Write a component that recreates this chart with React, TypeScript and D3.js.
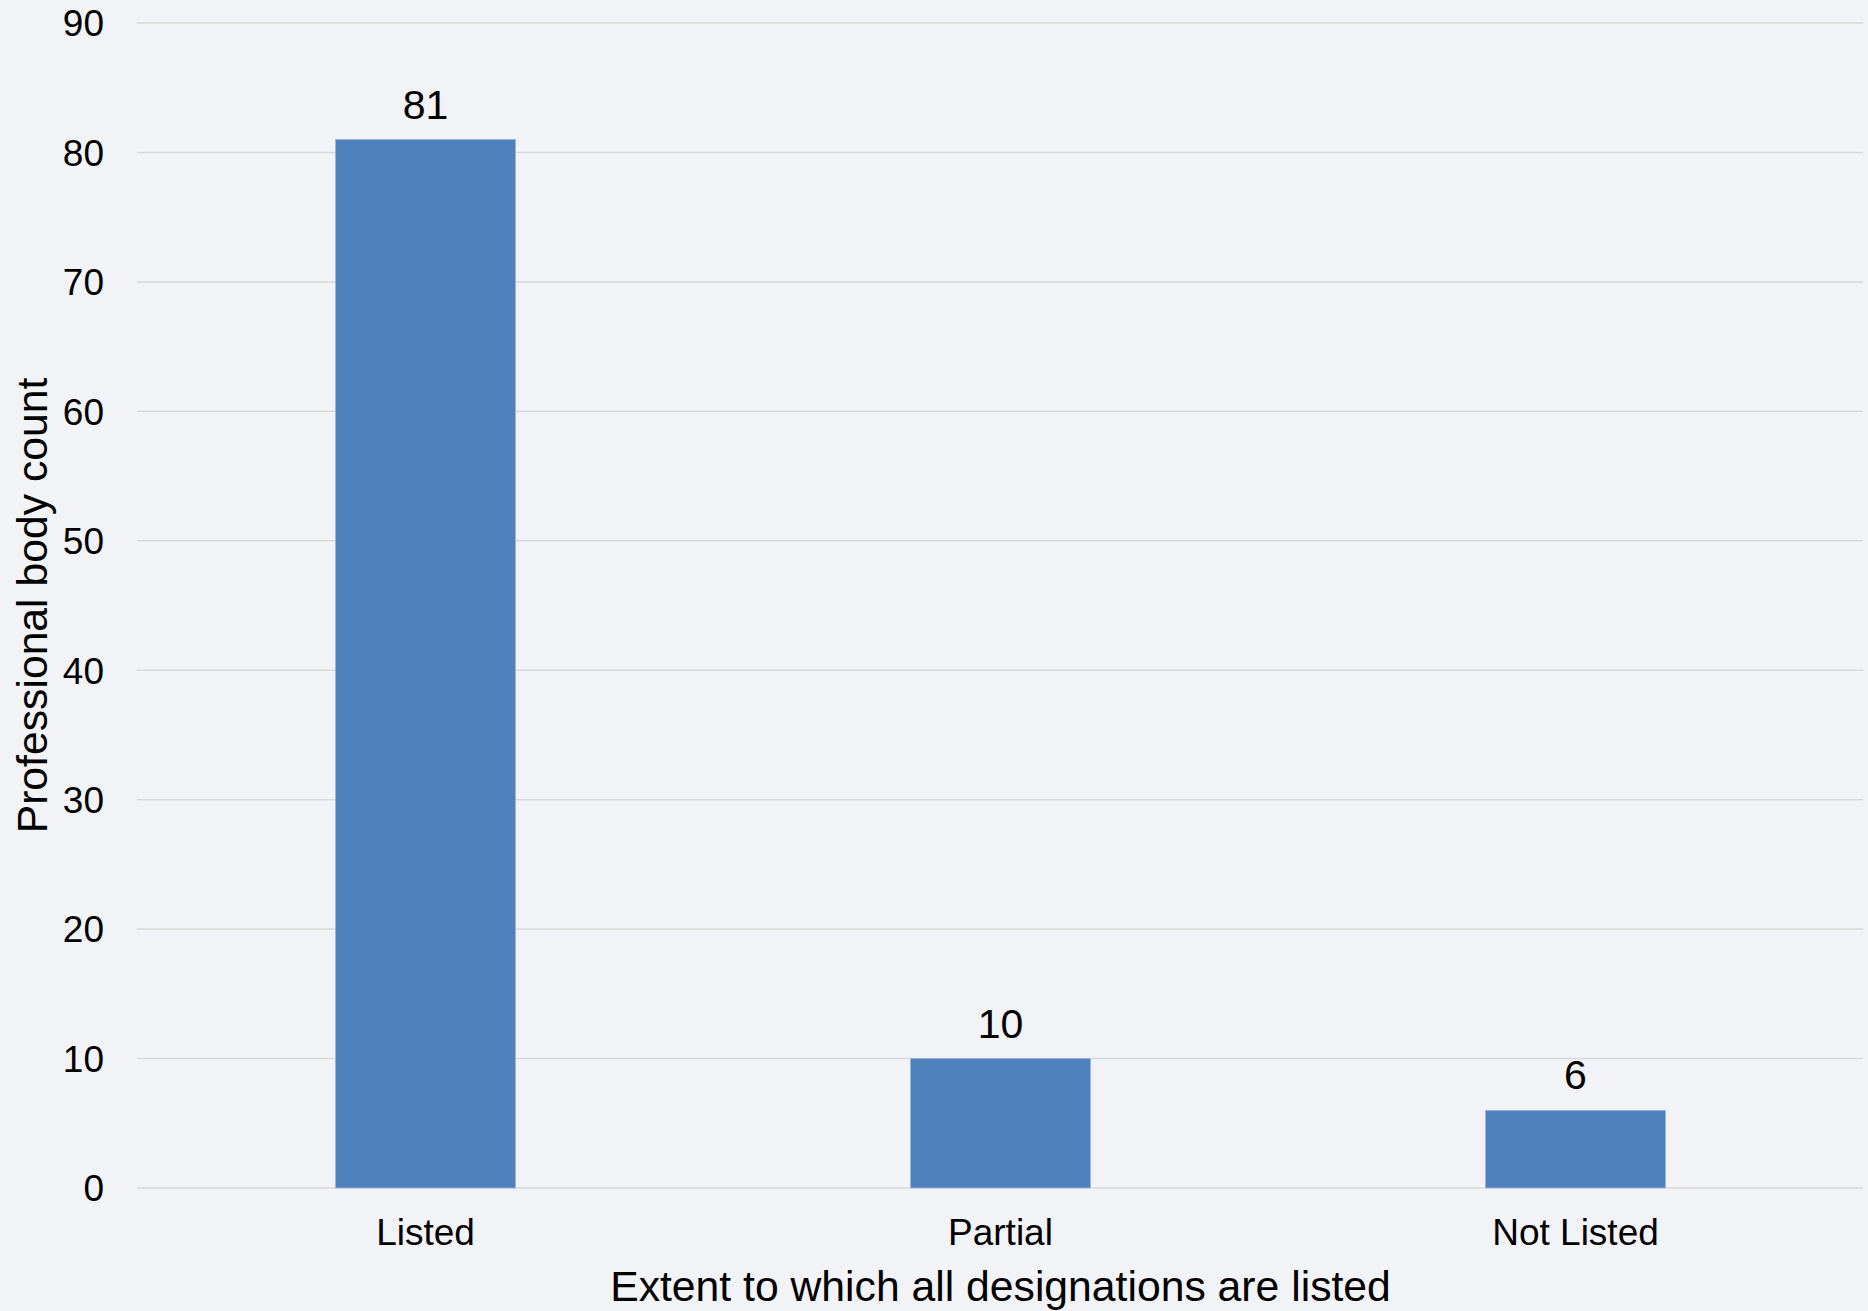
import React from "react";
import * as d3 from "d3";

const categories = ["Listed", "Partial", "Not Listed"];
const counts = [81, 10, 6];
const yTicks = [0, 10, 20, 30, 40, 50, 60, 70, 80, 90];
const xTitle = "Extent to which all designations are listed";
const yTitle = "Professional body count";

const W = 1868;
const H = 1311;
const margin = { left: 138, right: 5, top: 23, bottom: 123 };
const FONT = "'Liberation Sans', Arial, sans-serif";

export default function App() {
  const x = d3
    .scaleBand<string>()
    .domain(categories)
    .range([margin.left, W - margin.right])
    .paddingInner(0.687)
    .paddingOuter(0.3435);
  const y = d3
    .scaleLinear()
    .domain([0, 90])
    .range([H - margin.bottom, margin.top]);

  const plotMidX = (margin.left + W - margin.right) / 2;
  const plotMidY = (y(0) + y(90)) / 2;

  return (
    <div style={{ position: "absolute", left: 0, top: 0 }}>
      <svg width={W} height={H} style={{ display: "block", fontFamily: FONT }}>
        <rect x={0} y={0} width={W} height={H} fill="#f2f3f7" />
        {yTicks.map((t) => (
          <g key={t}>
            <line
              x1={margin.left - 1}
              x2={W - margin.right}
              y1={y(t)}
              y2={y(t)}
              stroke="#d9d9d9"
              strokeWidth={1.5}
            />
            <text
              x={104}
              y={y(t)}
              dy="0.36em"
              textAnchor="end"
              fontSize={37}
              fill="#000"
            >
              {t}
            </text>
          </g>
        ))}
        {categories.map((c, i) => {
          const bx = x(c) ?? 0;
          const by = y(counts[i]);
          return (
            <g key={c}>
              <rect
                x={bx}
                y={by}
                width={x.bandwidth()}
                height={y(0) - by}
                fill="#4f81bd"
                stroke="#9db5d6"
                strokeWidth={0.8}
              />
              <text
                x={bx + x.bandwidth() / 2}
                y={by - 21}
                textAnchor="middle"
                fontSize={41}
                fill="#000"
              >
                {counts[i]}
              </text>
              <text
                x={bx + x.bandwidth() / 2}
                y={1245}
                textAnchor="middle"
                fontSize={37}
                fill="#000"
              >
                {c}
              </text>
            </g>
          );
        })}
        <text
          x={plotMidX}
          y={1301}
          textAnchor="middle"
          fontSize={42.7}
          fill="#000"
        >
          {xTitle}
        </text>
        <text
          transform={`translate(47, ${plotMidY}) rotate(-90)`}
          textAnchor="middle"
          fontSize={42.7}
          fill="#000"
        >
          {yTitle}
        </text>
      </svg>
    </div>
  );
}
